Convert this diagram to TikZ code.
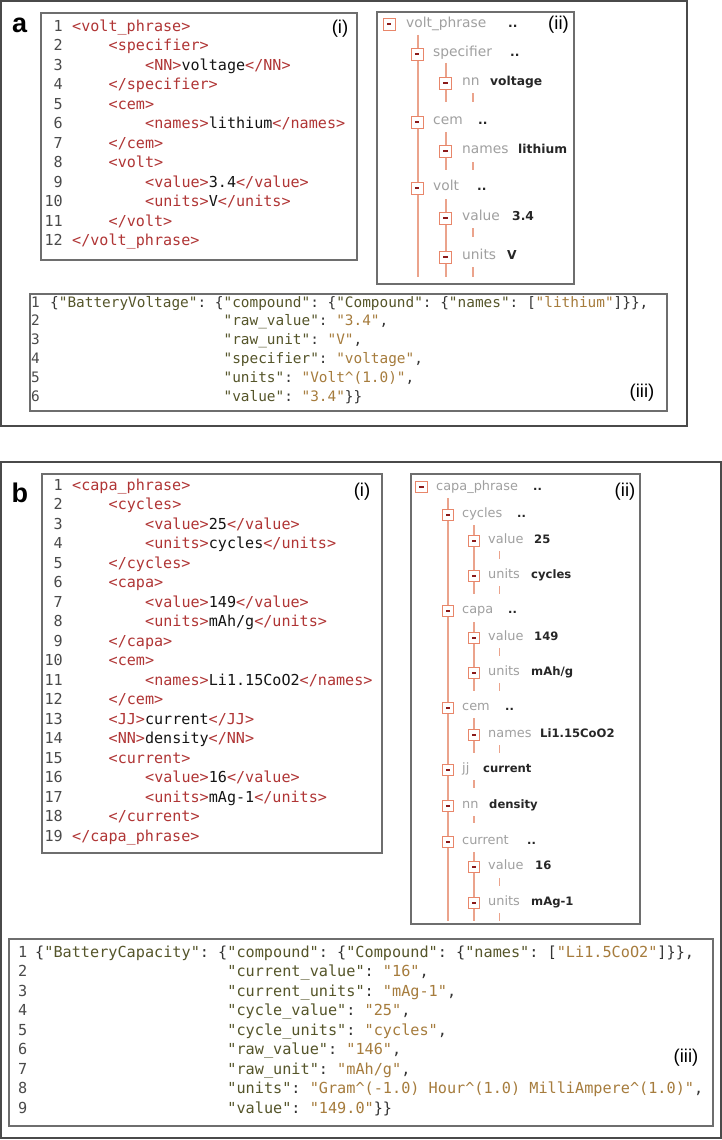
\documentclass[tikz,border=0pt]{standalone}
\usepackage{fontspec}
\setmonofont{DejaVu Sans Mono}
\newfontfamily\labfont{Liberation Sans}
\newfontfamily\treefont{DejaVu Sans}
\definecolor{outerc}{HTML}{4A4A4A}
\definecolor{innerc}{HTML}{6E6E6E}
\definecolor{tagred}{HTML}{B03535}
\definecolor{numc}{HTML}{4A4A4A}
\definecolor{jkey}{HTML}{55552A}
\definecolor{jval}{HTML}{A67C3D}
\definecolor{jpun}{HTML}{333333}
\definecolor{treegray}{HTML}{A0A0A0}
\definecolor{tlinec}{HTML}{EBA38C}
\definecolor{iconc}{HTML}{E8866A}
\definecolor{icondash}{HTML}{8B1A1A}
\newcommand\tg[1]{\textcolor{tagred}{#1}}
\newcommand\jk{\color{jkey}}
\newcommand\jv{\color{jval}}
\newcommand\jp{\color{jpun}}
\newcommand\crt{\textasciicircum}
\newcommand\xln[5]{\node[xnum] (#1n) at (63,#3) {#2};\node[xtxt] (#1) at (#4,#3) {#5};}
\newcommand\jln[7]{\node[#1] (#2n) at (#3,#5) {\color{numc}#4};\node[#1] (#2) at (#6,#5) {\jp#7};}
\tikzset{
  outerbox/.style={draw=outerc, line width=1.5pt},
  innerbox/.style={draw=innerc, line width=1.1pt},
  xnum/.style={anchor=mid east, inner sep=0, text=numc, font=\ttfamily\fontsize{15.1}{18}\selectfont},
  xtxt/.style={anchor=mid west, inner sep=0, text=black!92, font=\ttfamily\fontsize{15.1}{18}\selectfont},
  jsa/.style={anchor=mid west, inner sep=0, font=\ttfamily\fontsize{14.4}{17}\selectfont},
  jsb/.style={anchor=mid west, inner sep=0, font=\ttfamily\fontsize{15.2}{18}\selectfont},
  plabel/.style={anchor=base west, inner sep=0, font=\labfont\bfseries\fontsize{27}{30}\selectfont},
  sublabel/.style={anchor=center, inner sep=0, font=\labfont\fontsize{18.5}{20}\selectfont},
  tline/.style={draw=tlinec, line width=1.1pt},
  iconbase/.style={draw=iconc, fill=white, inner sep=0, line width=0.9pt,
     path picture={\fill[icondash] ([xshift=-2.2pt,yshift=-0.8pt]path picture bounding box.center) rectangle ++(4.4pt,1.6pt);}},
  iconA/.style={iconbase, minimum size=12pt},
  iconB/.style={iconbase, minimum size=11.5pt},
  tlabA/.style={anchor=mid west, inner sep=0, text=treegray, font=\treefont\fontsize{13.8}{16}\selectfont},
  tvalA/.style={anchor=mid west, inner sep=0, text=black!85, font=\treefont\bfseries\fontsize{12.3}{14}\selectfont},
  tlabB/.style={anchor=mid west, inner sep=0, text=treegray, font=\treefont\fontsize{12.9}{15}\selectfont},
  tvalB/.style={anchor=mid west, inner sep=0, text=black!85, font=\treefont\bfseries\fontsize{11.6}{14}\selectfont},
}
\begin{document}
\begin{tikzpicture}[x=1pt,y=-1pt]
\fill[white] (0,0) rectangle (722,1140);
\useasboundingbox (0,0) rectangle (722,1140);

% ================= panel a =================
\draw[outerbox] (1,1) rectangle (687,426);
\node[plabel] (la) at (12,33) {a};
\draw[innerbox] (41,13) rectangle (357,260);
\draw[innerbox] (377,12) rectangle (574,284);
\draw[innerbox] (30,294) rectangle (667,411);

% a(i) XML
\xln{ax1}{1}{29}{72}{\tg{<volt\_phrase>}}
\xln{ax2}{2}{48.5}{108.5}{\tg{<specifier>}}
\xln{ax3}{3}{68}{145}{\tg{<NN>}voltage\tg{</NN>}}
\xln{ax4}{4}{87.5}{108.5}{\tg{</specifier>}}
\xln{ax5}{5}{107}{108.5}{\tg{<cem>}}
\xln{ax6}{6}{126.5}{145}{\tg{<names>}lithium\tg{</names>}}
\xln{ax7}{7}{146}{108.5}{\tg{</cem>}}
\xln{ax8}{8}{165.5}{108.5}{\tg{<volt>}}
\xln{ax9}{9}{185}{145}{\tg{<value>}3.4\tg{</value>}}
\xln{ax10}{10}{204.5}{145}{\tg{<units>}V\tg{</units>}}
\xln{ax11}{11}{224}{108.5}{\tg{</volt>}}
\xln{ax12}{12}{243.5}{72}{\tg{</volt\_phrase>}}
\node[sublabel] (ai) at (340,29) {(i)};

% a(ii) tree lines
\coordinate (a2m1) at (418,35);  \coordinate (a2m2) at (418,277);
\coordinate (a2s1) at (446,63);  \coordinate (a2s2) at (446,102);
\coordinate (a2t1) at (473,93);  \coordinate (a2t2) at (473,102);
\coordinate (a2c1) at (446,132); \coordinate (a2c2) at (446,170);
\coordinate (a2u1) at (473,162); \coordinate (a2u2) at (473,170);
\coordinate (a2v1) at (446,199); \coordinate (a2v2) at (446,277);
\coordinate (a2w1) at (473,228); \coordinate (a2w2) at (473,237);
\coordinate (a2x1) at (473,267); \coordinate (a2x2) at (473,277);
\draw[tline] (a2m1) -- (a2m2);
\draw[tline] (a2s1) -- (a2s2);
\draw[tline] (a2t1) -- (a2t2);
\draw[tline] (a2c1) -- (a2c2);
\draw[tline] (a2u1) -- (a2u2);
\draw[tline] (a2v1) -- (a2v2);
\draw[tline] (a2w1) -- (a2w2);
\draw[tline] (a2x1) -- (a2x2);
% a(ii) items
\node[iconA] (a2r) at (389,24) {};
\node[tlabA] (a2rl) at (406,25) {volt\_phrase};
\node[tvalA] (a2rd) at (508,25) {..};
\node[iconA] (a2sp) at (417,54) {};
\node[tlabA] (a2spl) at (433,54) {specifier};
\node[tvalA] (a2spd) at (510,54) {..};
\node[iconA] (a2nn) at (445.5,83) {};
\node[tlabA] (a2nnl) at (462,83) {nn};
\node[tvalA] (a2nnv) at (490,83) {voltage};
\node[iconA] (a2ce) at (417,122) {};
\node[tlabA] (a2cel) at (433,122) {cem};
\node[tvalA] (a2ced) at (478,122) {..};
\node[iconA] (a2na) at (445.5,151) {};
\node[tlabA] (a2nal) at (462,151) {names};
\node[tvalA] (a2nav) at (518,151) {lithium};
\node[iconA] (a2vo) at (417,188) {};
\node[tlabA] (a2vol) at (433,188) {volt};
\node[tvalA] (a2vod) at (477,188) {..};
\node[iconA] (a2va) at (445.5,218) {};
\node[tlabA] (a2val) at (462,218) {value};
\node[tvalA] (a2vav) at (512,218) {3.4};
\node[iconA] (a2un) at (445.5,257) {};
\node[tlabA] (a2unl) at (462,257) {units};
\node[tvalA] (a2unv) at (507,257) {V};
\node[sublabel] (aii) at (558.5,25) {(ii)};

% a(iii) JSON
\jln{jsa}{aj1}{31}{1}{305}{50}{\{\jk"BatteryVoltage"\jp: \{\jk"compound"\jp: \{\jk"Compound"\jp: \{\jk"names"\jp: [\jv"lithium"\jp]\}\},}
\jln{jsa}{aj2}{31}{2}{323.8}{223.4}{\jk"raw\_value"\jp: \jv"3.4"\jp,}
\jln{jsa}{aj3}{31}{3}{342.6}{223.4}{\jk"raw\_unit"\jp: \jv"V"\jp,}
\jln{jsa}{aj4}{31}{4}{361.4}{223.4}{\jk"specifier"\jp: \jv"voltage"\jp,}
\jln{jsa}{aj5}{31}{5}{380.2}{223.4}{\jk"units"\jp: \jv"Volt\crt(1.0)"\jp,}
\jln{jsa}{aj6}{31}{6}{399}{223.4}{\jk"value"\jp: \jv"3.4"\jp\}\}}
\node[sublabel] (aiii) at (642,393) {(iii)};

% ================= panel b =================
\draw[outerbox] (1,462) rectangle (721,1138);
\node[plabel] (lb) at (11.5,502) {b};
\draw[innerbox] (42,474) rectangle (382,853);
\draw[innerbox] (411,474) rectangle (640,924);
\draw[innerbox] (9,939) rectangle (713,1126);

% b(i) XML
\xln{bx1}{1}{488}{72}{\tg{<capa\_phrase>}}
\xln{bx2}{2}{507.5}{108.5}{\tg{<cycles>}}
\xln{bx3}{3}{527}{145}{\tg{<value>}25\tg{</value>}}
\xln{bx4}{4}{546.5}{145}{\tg{<units>}cycles\tg{</units>}}
\xln{bx5}{5}{566}{108.5}{\tg{</cycles>}}
\xln{bx6}{6}{585.5}{108.5}{\tg{<capa>}}
\xln{bx7}{7}{605}{145}{\tg{<value>}149\tg{</value>}}
\xln{bx8}{8}{624.5}{145}{\tg{<units>}mAh/g\tg{</units>}}
\xln{bx9}{9}{644}{108.5}{\tg{</capa>}}
\xln{bx10}{10}{663.5}{108.5}{\tg{<cem>}}
\xln{bx11}{11}{683}{145}{\tg{<names>}Li1.15CoO2\tg{</names>}}
\xln{bx12}{12}{702.5}{108.5}{\tg{</cem>}}
\xln{bx13}{13}{722}{108.5}{\tg{<JJ>}current\tg{</JJ>}}
\xln{bx14}{14}{741.5}{108.5}{\tg{<NN>}density\tg{</NN>}}
\xln{bx15}{15}{761}{108.5}{\tg{<current>}}
\xln{bx16}{16}{780.5}{145}{\tg{<value>}16\tg{</value>}}
\xln{bx17}{17}{800}{145}{\tg{<units>}mAg-1\tg{</units>}}
\xln{bx18}{18}{819.5}{108.5}{\tg{</current>}}
\xln{bx19}{19}{839}{72}{\tg{</capa\_phrase>}}
\node[sublabel] (bi) at (362,492) {(i)};

% b(ii) tree lines
\coordinate (b2m1) at (448,498);   \coordinate (b2m2) at (448,921);
\coordinate (b2c1) at (474,525);   \coordinate (b2c2) at (474,594);
\coordinate (b2c3) at (499.5,551); \coordinate (b2c4) at (499.5,559);
\coordinate (b2c5) at (499.5,586); \coordinate (b2c6) at (499.5,594);
\coordinate (b2p1) at (474,622);   \coordinate (b2p2) at (474,691);
\coordinate (b2p3) at (499.5,648); \coordinate (b2p4) at (499.5,656);
\coordinate (b2p5) at (499.5,683); \coordinate (b2p6) at (499.5,691);
\coordinate (b2e1) at (474,718);   \coordinate (b2e2) at (474,753);
\coordinate (b2e3) at (499.5,745); \coordinate (b2e4) at (499.5,753);
\coordinate (b2j1) at (474,780);   \coordinate (b2j2) at (474,788);
\coordinate (b2n1) at (474,816);   \coordinate (b2n2) at (474,823);
\coordinate (b2u1) at (474,852);   \coordinate (b2u2) at (474,921);
\coordinate (b2u3) at (499.5,878); \coordinate (b2u4) at (499.5,886);
\coordinate (b2u5) at (499.5,913); \coordinate (b2u6) at (499.5,921);
\draw[tline] (b2m1) -- (b2m2);
\draw[tline] (b2c1) -- (b2c2);
\draw[tline] (b2c3) -- (b2c4);
\draw[tline] (b2c5) -- (b2c6);
\draw[tline] (b2p1) -- (b2p2);
\draw[tline] (b2p3) -- (b2p4);
\draw[tline] (b2p5) -- (b2p6);
\draw[tline] (b2e1) -- (b2e2);
\draw[tline] (b2e3) -- (b2e4);
\draw[tline] (b2j1) -- (b2j2);
\draw[tline] (b2n1) -- (b2n2);
\draw[tline] (b2u1) -- (b2u2);
\draw[tline] (b2u3) -- (b2u4);
\draw[tline] (b2u5) -- (b2u6);
% b(ii) items
\node[iconB] (b2r) at (421.5,487) {};
\node[tlabB] (b2rl) at (436,488) {capa\_phrase};
\node[tvalB] (b2rd) at (533,488) {..};
\node[iconB] (b2cy) at (448,515) {};
\node[tlabB] (b2cyl) at (462,515) {cycles};
\node[tvalB] (b2cyd) at (517,515) {..};
\node[iconB] (b2cva) at (474,541) {};
\node[tlabB] (b2cval) at (488,541) {value};
\node[tvalB] (b2cvav) at (534,541) {25};
\node[iconB] (b2cun) at (474,576) {};
\node[tlabB] (b2cunl) at (488,576) {units};
\node[tvalB] (b2cunv) at (531,576) {cycles};
\node[iconB] (b2ca) at (448,611) {};
\node[tlabB] (b2cal) at (462,611) {capa};
\node[tvalB] (b2cad) at (508,611) {..};
\node[iconB] (b2pva) at (474,638) {};
\node[tlabB] (b2pval) at (488,638) {value};
\node[tvalB] (b2pvav) at (534,638) {149};
\node[iconB] (b2pun) at (474,673) {};
\node[tlabB] (b2punl) at (488,673) {units};
\node[tvalB] (b2punv) at (531,673) {mAh/g};
\node[iconB] (b2ce) at (448,708) {};
\node[tlabB] (b2cel) at (462,708) {cem};
\node[tvalB] (b2ced) at (505,708) {..};
\node[iconB] (b2na) at (474,735) {};
\node[tlabB] (b2nal) at (488,735) {names};
\node[tvalB] (b2nav) at (540,735) {Li1.15CoO2};
\node[iconB] (b2jj) at (448,770) {};
\node[tlabB] (b2jjl) at (462,770) {jj};
\node[tvalB] (b2jjv) at (483,770) {current};
\node[iconB] (b2nn) at (448,806) {};
\node[tlabB] (b2nnl) at (462,806) {nn};
\node[tvalB] (b2nnv) at (489,806) {density};
\node[iconB] (b2cu) at (448,842) {};
\node[tlabB] (b2cul) at (462,842) {current};
\node[tvalB] (b2cud) at (527,842) {..};
\node[iconB] (b2uva) at (474,867) {};
\node[tlabB] (b2uval) at (488,867) {value};
\node[tvalB] (b2uvav) at (535,867) {16};
\node[iconB] (b2uun) at (474,903) {};
\node[tlabB] (b2uunl) at (488,903) {units};
\node[tvalB] (b2uunv) at (531,903) {mAg-1};
\node[sublabel] (bii) at (625,492) {(ii)};

% b(iii) JSON
\jln{jsb}{bj1}{18}{1}{955}{35}{\{\jk"BatteryCapacity"\jp: \{\jk"compound"\jp: \{\jk"Compound"\jp: \{\jk"names"\jp: [\jv"Li1.5CoO2"\jp]\}\},}
\jln{jsb}{bj2}{18}{2}{974.5}{227.2}{\jk"current\_value"\jp: \jv"16"\jp,}
\jln{jsb}{bj3}{18}{3}{994}{227.2}{\jk"current\_units"\jp: \jv"mAg-1"\jp,}
\jln{jsb}{bj4}{18}{4}{1013.5}{227.2}{\jk"cycle\_value"\jp: \jv"25"\jp,}
\jln{jsb}{bj5}{18}{5}{1033}{227.2}{\jk"cycle\_units"\jp: \jv"cycles"\jp,}
\jln{jsb}{bj6}{18}{6}{1052.5}{227.2}{\jk"raw\_value"\jp: \jv"146"\jp,}
\jln{jsb}{bj7}{18}{7}{1072}{227.2}{\jk"raw\_unit"\jp: \jv"mAh/g"\jp,}
\jln{jsb}{bj8}{18}{8}{1091.5}{227.2}{\jk"units"\jp: \jv"Gram\crt(-1.0) Hour\crt(1.0) MilliAmpere\crt(1.0)"\jp,}
\jln{jsb}{bj9}{18}{9}{1111}{227.2}{\jk"value"\jp: \jv"149.0"\jp\}\}}
\node[sublabel] (biii) at (686,1058) {(iii)};
\end{tikzpicture}
\end{document}
